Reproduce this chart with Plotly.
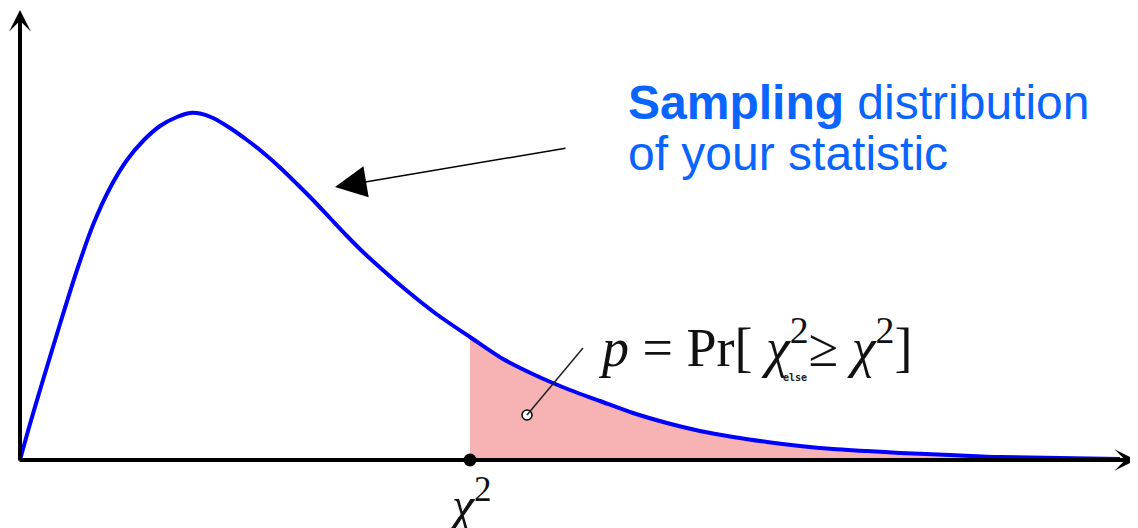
import plotly.graph_objects as go

# Curve (x, density in arbitrary units)
curve_x = [0.0, 0.10, 0.23, 0.40, 0.57, 0.73, 0.90, 1.07, 1.23, 1.40, 1.57, 1.70, 1.80, 1.93,
           2.10, 2.27, 2.43, 2.60, 2.77, 2.93, 3.10, 3.27, 3.43, 3.60, 3.83, 4.17, 4.50, 4.83,
           5.17, 5.50, 5.80, 6.13, 6.47, 6.80, 7.13, 7.47, 7.80, 8.13, 8.47, 8.80, 9.30, 9.80,
           10.40, 11.00]
curve_y = [0.0, 0.36, 0.80, 1.36, 1.90, 2.35, 2.72, 3.00, 3.19, 3.34, 3.43, 3.47, 3.465, 3.42,
           3.32, 3.20, 3.075, 2.925, 2.76, 2.60, 2.42, 2.24, 2.08, 1.925, 1.725, 1.455, 1.23, 1.01,
           0.84, 0.70, 0.59, 0.47, 0.37, 0.29, 0.23, 0.18, 0.14, 0.11, 0.09, 0.07, 0.05, 0.03,
           0.02, 0.01]
chi2_stat = 4.5

# page body has an 8px margin; the helpers map page pixels to data coordinates (positions only)
OFF = 8

def X(px):
    return (px - 20) / 100.0

def Y(py):
    return (460 - py) / 100.0

tail_x = [x for x in curve_x if x >= chi2_stat]
tail_y = [y for x, y in zip(curve_x, curve_y) if x >= chi2_stat]

fig = go.Figure()
fig.add_trace(go.Scatter(x=tail_x, y=tail_y, mode="lines",
                         line=dict(width=0, color="rgba(0,0,0,0)", shape="spline", smoothing=0.8),
                         fill="tozeroy", fillcolor="#F7B3B3", hoverinfo="skip", showlegend=False))
fig.add_trace(go.Scatter(x=curve_x, y=curve_y, mode="lines",
                         line=dict(color="#0000FF", width=4, shape="spline", smoothing=0.8),
                         showlegend=False, hoverinfo="skip"))

annotations = []
# axes with arrowheads
annotations.append(dict(x=X(1136), y=0, ax=X(18), ay=0, xref="x", yref="y", axref="x", ayref="y",
                        text="", showarrow=True, arrowhead=3, arrowwidth=4, arrowsize=0.9, arrowcolor="black"))
annotations.append(dict(x=0, y=Y(10), ax=0, ay=Y(462), xref="x", yref="y", axref="x", ayref="y",
                        text="", showarrow=True, arrowhead=3, arrowwidth=4, arrowsize=0.9, arrowcolor="black"))
# pointer arrow to the curve
annotations.append(dict(x=X(335), y=Y(187), ax=X(567), ay=Y(148), xref="x", yref="y", axref="x", ayref="y",
                        text="", showarrow=True, arrowhead=2, arrowwidth=1.5, arrowsize=4.2, arrowcolor="black"))

# blue text
blue = "#0A64FF"
annotations.append(dict(x=X(626), y=Y(102), xref="x", yref="y", xanchor="left", yanchor="middle",
                        text="<b>Sampling</b> distribution", showarrow=False,
                        font=dict(family="Liberation Sans, Arial", size=48, color=blue)))
annotations.append(dict(x=X(626), y=Y(153), xref="x", yref="y", xanchor="left", yanchor="middle",
                        text="of your statistic", showarrow=False,
                        font=dict(family="Liberation Sans, Arial", size=48, color=blue)))

# formula
annotations.append(dict(x=X(596), y=Y(343), xref="x", yref="y", xanchor="left", yanchor="middle",
                        text="<i>p</i> = Pr[ <i>χ</i><sup>2</sup>≥ <i>χ</i><sup>2</sup>]", showarrow=False,
                        font=dict(family="Liberation Serif", size=54, color="#111111")))
annotations.append(dict(x=X(795), y=Y(377), xref="x", yref="y", xanchor="center", yanchor="middle",
                        text="<b>else</b>", showarrow=False,
                        font=dict(family="DejaVu Sans Mono", size=10, color="#222222")))
# chi2 label under axis
annotations.append(dict(x=chi2_stat, y=Y(501), xref="x", yref="y", xanchor="center", yanchor="middle",
                        text="<i>χ</i><sup>2</sup>", showarrow=False,
                        font=dict(family="Liberation Serif", size=50, color="#111111")))

# callout line from shaded area to formula
fig.add_shape(type="line", x0=X(527), y0=Y(415), x1=X(583), y1=Y(348), xref="x", yref="y",
              line=dict(color="#222222", width=1.5))
fig.add_trace(go.Scatter(x=[X(527)], y=[Y(415)], mode="markers",
                         marker=dict(symbol="circle", size=10, color="white", line=dict(color="black", width=1.5)),
                         showlegend=False, hoverinfo="skip"))
# statistic dot
fig.add_trace(go.Scatter(x=[chi2_stat], y=[0], mode="markers", cliponaxis=False,
                         marker=dict(symbol="circle", size=13, color="black"),
                         showlegend=False, hoverinfo="skip"))

fig.update_layout(
    width=1138, height=528,
    margin=dict(l=0, r=0, t=0, b=0),
    paper_bgcolor="white", plot_bgcolor="white",
    xaxis=dict(range=[X(OFF), X(1138 + OFF)], visible=False, fixedrange=True),
    yaxis=dict(range=[Y(528 + OFF), Y(OFF)], visible=False, fixedrange=True),
    annotations=annotations,
    showlegend=False,
)

fig.write_html("out.html")
